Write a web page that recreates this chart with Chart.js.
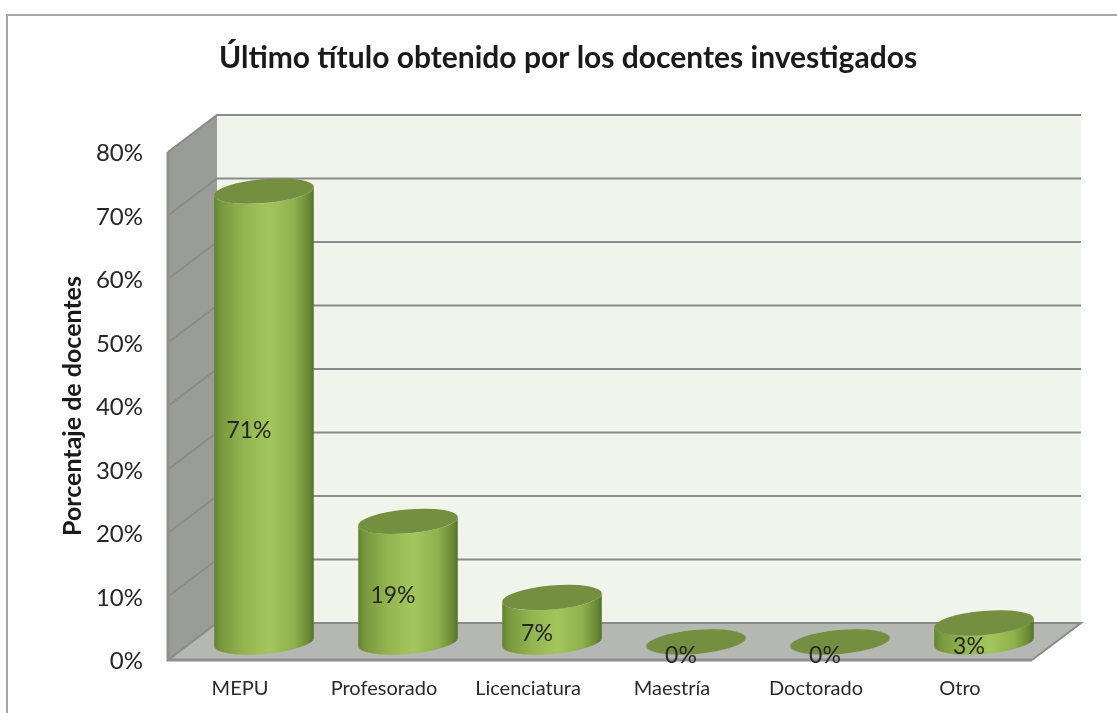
<!DOCTYPE html>
<html>
<head>
<meta charset="utf-8">
<style>html,body{margin:0;padding:0;background:#fff;overflow:hidden}canvas{display:block}</style>
<script src="https://cdn.jsdelivr.net/npm/chart.js@4"></script>
</head>
<body>
<canvas id="c" width="1117" height="713" style="width:1117px;height:713px"></canvas>
<script>
const categories = ['MEPU','Profesorado','Licenciatura','Maestría','Doctorado','Otro'];
const values = [71,19,7,0,0,3];
const chartTitle = 'Último título obtenido por los docentes investigados';
const yAxisTitle = 'Porcentaje de docentes';

const FONT = 'Lato, Carlito, "Open Sans", sans-serif';
const DX = 49, DY = -37;      // depth of the 3D box
const BX = 24, BY = -18;      // bars stand half way into the box
const ROT = -5 * Math.PI / 180;

Chart.BarElement.prototype.draw = function (ctx) {
  const cx = this.x, top = this.y, base = this.base;
  const rx = this.width / 2, ry = this.width * 0.12;
  const t0 = Math.atan((ry / rx) * Math.tan(-ROT));
  ctx.save();
  if (base - top > 1) {
    const g = ctx.createLinearGradient(cx - rx, 0, cx + rx, 0);
    g.addColorStop(0, '#64822f');
    g.addColorStop(0.08, '#7a9a3e');
    g.addColorStop(0.3, '#92b550');
    g.addColorStop(0.55, '#a3c65c');
    g.addColorStop(0.8, '#8fb14e');
    g.addColorStop(0.93, '#6f8e38');
    g.addColorStop(1, '#587329');
    ctx.beginPath();
    ctx.ellipse(cx, base, rx, ry, ROT, t0, t0 + Math.PI);
    ctx.ellipse(cx, top, rx, ry, ROT, t0 + Math.PI, t0, true);
    ctx.closePath();
    ctx.fillStyle = g;
    ctx.fill();
  }
  ctx.beginPath();
  ctx.ellipse(cx, top, rx, ry, ROT, 0, Math.PI * 2);
  ctx.fillStyle = '#748f40';
  ctx.fill();
  ctx.restore();
};

const box3d = {
  id: 'box3d',
  afterLayout(chart) {
    chart.titleBlock.left += 52;
    chart.titleBlock.right += 52;
  },
  beforeDraw(chart) {
    const { ctx, chartArea: a, scales: { y } } = chart;
    ctx.save();
    ctx.strokeStyle = '#a6a6a8';
    ctx.lineWidth = 2;
    ctx.beginPath();
    ctx.moveTo(7, 713); ctx.lineTo(7, 15); ctx.lineTo(1117, 15);
    ctx.stroke();
    const poly = (pts, fill) => {
      ctx.beginPath();
      pts.forEach((p, i) => i ? ctx.lineTo(p[0], p[1]) : ctx.moveTo(p[0], p[1]));
      ctx.closePath();
      ctx.fillStyle = fill;
      ctx.fill();
    };
    const l = a.left, r = a.right, t = a.top, b = a.bottom;
    poly([[l + DX, t + DY], [r + DX, t + DY], [r + DX, b + DY], [l + DX, b + DY]], '#f1f4eb');
    poly([[l, t], [l + DX, t + DY], [l + DX, b + DY], [l, b]], '#9a9c98');
    poly([[l, b], [l + DX, b + DY], [r + DX, b + DY], [r, b]], '#b5b7b2');
    ctx.lineWidth = 2;
    y.ticks.forEach(tk => {
      const py = y.getPixelForValue(tk.value);
      ctx.strokeStyle = '#8a8b88';
      ctx.beginPath();
      ctx.moveTo(l, py); ctx.lineTo(l + DX, py + DY); ctx.lineTo(r + DX, py + DY);
      if (tk.value === 0) ctx.lineTo(r, py);
      ctx.stroke();
    });
    ctx.strokeStyle = '#8f908e';
    ctx.lineWidth = 3;
    ctx.beginPath();
    ctx.moveTo(l, t); ctx.lineTo(l, b); ctx.lineTo(r, b);
    ctx.stroke();
    ctx.restore();
  },
  beforeDatasetsDraw(chart) {
    chart.ctx.save();
    chart.ctx.translate(BX, BY);
  },
  afterDatasetsDraw(chart) {
    const ctx = chart.ctx;
    ctx.restore();
    ctx.save();
    ctx.font = '23px ' + FONT;
    ctx.fillStyle = '#262626';
    ctx.textAlign = 'center';
    ctx.textBaseline = 'middle';
    chart.getDatasetMeta(0).data.forEach((el, i) => {
      const mid = (el.y + el.base) / 2 + BY;
      ctx.fillText(values[i] + '%', el.x + BX - 15, mid + 14);
    });
    ctx.restore();
  }
};

new Chart(document.getElementById('c'), {
  type: 'bar',
  data: {
    labels: categories,
    datasets: [{ data: values, clip: false, backgroundColor: '#a3c65c', barPercentage: 0.694, categoryPercentage: 1 }]
  },
  options: {
    responsive: false,
    animation: false,
    layout: { padding: { left: 0, right: 85, top: 0, bottom: 0 } },
    plugins: {
      legend: { display: false },
      tooltip: { enabled: false },
      title: {
        display: true,
        text: chartTitle,
        color: '#1a1a1a',
        font: { family: FONT, size: 30, weight: 'bold', lineHeight: 1.2 },
        padding: { top: 40, bottom: 76 }
      }
    },
    scales: {
      x: {
        grid: { display: false, drawTicks: false },
        border: { display: false },
        ticks: { color: '#2a2a2a', font: { family: FONT, size: 20 }, padding: 17, maxRotation: 0 },
        afterFit(s) { s.height = 53; }
      },
      y: {
        min: 0, max: 80,
        grid: { display: false, drawTicks: false },
        border: { display: false },
        ticks: { stepSize: 10, color: '#262626', font: { family: FONT, size: 24 }, padding: 25, labelOffset: 1.5, callback: v => v + '%' },
        title: {
          display: true,
          text: yAxisTitle,
          color: '#1a1a1a',
          font: { family: FONT, size: 25, weight: 'bold', lineHeight: 1.2 },
          padding: { top: 58, bottom: 0 }
        },
        afterFit(s) { s.width = 168; }
      }
    }
  },
  plugins: [box3d]
});
</script>
</body>
</html>
